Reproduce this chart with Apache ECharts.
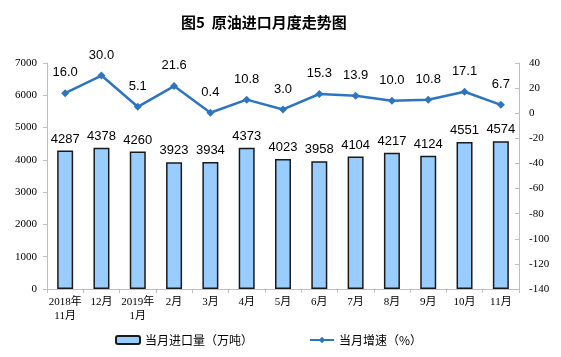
<!DOCTYPE html>
<html><head><meta charset="utf-8">
<script src="https://cdn.jsdelivr.net/npm/echarts@6/dist/echarts.min.js"></script>
<style>html,body{margin:0;padding:0;background:#fff}#c{width:561px;height:357px}</style>
</head><body><div id="c"></div>
<script>
const categories = ['2018年\n11月','12月','2019年\n1月','2月','3月','4月','5月','6月','7月','8月','9月','10月','11月'];
const importVolume = [4287,4378,4260,3923,3934,4373,4023,3958,4104,4217,4124,4551,4574];
const growthRate = [16.0,30.0,5.1,21.6,0.4,10.8,3.0,15.3,13.9,10.0,10.8,17.1,6.7];
const leftTicks = {min:0,max:7000,interval:1000};
const rightTicks = {min:-140,max:40,interval:20};

const chart = echarts.init(document.getElementById('c'));
const axisFont = {fontFamily:'Liberation Serif, Noto Sans CJK SC', fontSize:11, color:'#000'};
chart.setOption({
  animation:false,
  title:{text:'图5  原油进口月度走势图', left:176, top:10,
    textStyle:{fontFamily:'Noto Sans CJK SC', fontSize:15, fontWeight:'bold', color:'#000'}},
  grid:{left:47,right:42,top:63,bottom:68},
  legend:{bottom:6, left:110, itemGap:56, itemWidth:24, itemHeight:8,
    textStyle:{fontFamily:'Noto Sans CJK SC', fontSize:12, color:'#000'},
    data:[{name:'当月进口量（万吨）'},{name:'当月增速（%）'}]},
  xAxis:{type:'category', data:categories,
    axisLine:{lineStyle:{color:'#bfbfbf'}},
    axisTick:{show:true, alignWithLabel:false, length:4, lineStyle:{color:'#bfbfbf'}},
    axisLabel:Object.assign({interval:0, margin:6, lineHeight:14}, axisFont)},
  yAxis:[
    {type:'value', min:leftTicks.min, max:leftTicks.max, interval:leftTicks.interval,
     splitLine:{show:false},
     axisLine:{show:true, lineStyle:{color:'#bfbfbf'}},
     axisTick:{show:true, length:4, lineStyle:{color:'#bfbfbf'}},
     axisLabel:Object.assign({margin:10, formatter:v=>String(v)}, axisFont)},
    {type:'value', min:rightTicks.min, max:rightTicks.max, interval:rightTicks.interval,
     splitLine:{show:false},
     axisLine:{show:true, lineStyle:{color:'#bfbfbf'}},
     axisTick:{show:true, inside:true, length:4, lineStyle:{color:'#bfbfbf'}},
     axisLabel:Object.assign({margin:10, formatter:v=>String(v)}, axisFont)}
  ],
  series:[
    {name:'当月进口量（万吨）', type:'bar', data:importVolume, barWidth:16, yAxisIndex:0,
     itemStyle:{color:'#99ccff', borderColor:'#1a1a1a', borderWidth:1.5},
     label:{show:true, position:'top', distance:5, fontFamily:'Liberation Sans', fontSize:13, color:'#000'}},
    {name:'当月增速（%）', type:'line', data:growthRate, yAxisIndex:1,
     symbol:'diamond', symbolSize:8,
     lineStyle:{color:'#2e75c0', width:2.5},
     itemStyle:{color:'#2e75c0'},
     label:{show:true, position:'top', distance:10, fontFamily:'Liberation Sans', fontSize:13, color:'#000',
       formatter:p=>p.value.toFixed(1)}}
  ]
});
</script></body></html>
